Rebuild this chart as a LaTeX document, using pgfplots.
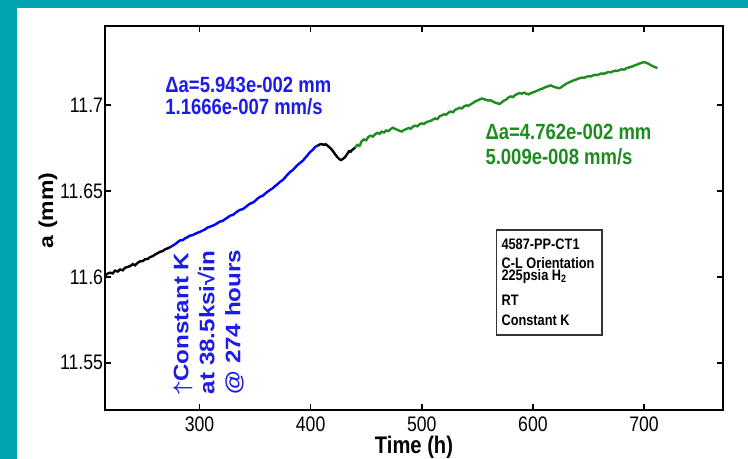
\documentclass[border=0pt]{standalone}
\usepackage{fontspec}
\setmainfont{Liberation Sans}
\newfontfamily\narrow[FakeStretch=0.84]{Liberation Sans}
\newfontfamily\wide[FakeStretch=1.15]{Liberation Sans}
\usepackage{pgfplots}
\pgfplotsset{compat=1.18}
\definecolor{frameteal}{HTML}{00A3AE}
\definecolor{dblue}{HTML}{1C1CE6}
\definecolor{dgreen}{HTML}{1E8C1E}

\begin{document}
\begin{tikzpicture}
\useasboundingbox (0,0) rectangle (374pt,229.5pt);
\clip (0,0) rectangle (374pt,229.5pt);
\fill[frameteal] (0,0) rectangle (374pt,229.5pt);
\fill[white] (8.5pt,0) rectangle (374pt,225.5pt);
\begin{axis}[
  at={(52.5pt,24.5pt)}, anchor=south west,
  width=309pt, height=192pt, scale only axis,
  xmin=215, xmax=771, ymin=11.5225, ymax=11.746,
  xtick={300,400,500,600,700},
  ytick={11.55,11.6,11.65,11.7},
  yticklabels={11.55,11.6,11.65,11.7},
  axis line style={line width=1pt},
  major tick style={line width=0.8pt, black},
  major tick length=3pt,
  tick label style={font=\narrow\fontsize{10.5}{11}\selectfont},
  y tick label style={inner sep=0.8pt},
  /pgf/number format/assume math mode=true,
  xlabel={\textbf{Time (h)}},
  ylabel={\textbf{a (mm)}},
  xlabel style={font=\narrow\fontsize{12}{13}\selectfont, at={(axis description cs:0.5,0)}, anchor=center, yshift=-18.5pt},
  ylabel style={font=\wide\fontsize{10}{11}\selectfont, at={(axis description cs:0,0.52)}, anchor=center, yshift=28.5pt},
  clip=false,
]
% first black part
\addplot[black, line width=1.2pt] coordinates {
 (215,11.6005) (217,11.6018) (219.5,11.6024) (222,11.6020) (224,11.6036)
 (226.5,11.6031) (228.5,11.6043) (231,11.6038) (233,11.6053) (235.5,11.6058)
 (237.5,11.6062) (240,11.6074) (242,11.6067) (244.5,11.6082) (246.5,11.6090)
 (249,11.6092) (251,11.6102) (253.5,11.6104) (255.5,11.6115) (258,11.6120)
 (260,11.6130) (262,11.6136) (264.5,11.6146) (267,11.6150) (269,11.6160)
 (271.5,11.6166) (274,11.6174)
};
% blue part
\addplot[blue, line width=1.2pt] coordinates {
 (274,11.6174) (276,11.6182) (278,11.6190) (280,11.6200) (282.5,11.6212)
 (285,11.6214) (287,11.6224) (289,11.6230) (291.5,11.6240) (294,11.6243)
 (296,11.6250) (298,11.6256) (300.5,11.6262) (303,11.6270) (305,11.6276)
 (307,11.6286) (309.5,11.6292) (312,11.6298) (314,11.6304) (316,11.6312)
 (318.5,11.6322) (321,11.6326) (323,11.6336) (325,11.6344) (327.5,11.6356)
 (330,11.6360) (332,11.6370) (334,11.6380) (336.5,11.6390) (339,11.6394)
 (341,11.6404) (343,11.6414) (345.5,11.6426) (348,11.6432) (350,11.6442)
 (352,11.6454) (354.5,11.6466) (357,11.6472) (359,11.6484) (361,11.6494)
 (363.5,11.6506) (366,11.6516) (368,11.6528) (370,11.6538) (372.5,11.6553)
 (375,11.6564) (377,11.6578) (379,11.6594) (381.5,11.6610) (384,11.6622)
 (386,11.6636) (388,11.6650) (390.5,11.6663) (393,11.6676) (395,11.6692)
 (397,11.6706) (399.5,11.6726) (402,11.6740) (404,11.6756) (406,11.6762)
};
% black bump
\addplot[black, line width=1.2pt] coordinates {
 (406,11.6762) (408,11.6770) (410,11.6773) (412,11.6768) (413.5,11.6772)
 (415.7,11.6761) (418,11.6748) (420,11.6732) (422,11.6714) (424,11.6697)
 (426,11.6684) (427.4,11.6680) (429,11.6686) (431,11.6697) (433,11.6716)
 (434.6,11.6732) (436,11.6728) (437.3,11.6738) (440,11.6752)
};
% green part
\addplot[dgreen, line width=1.2pt] coordinates {
 (440,11.6752) (442,11.6768) (444,11.6762) (446,11.6790) (448,11.6800)
 (450,11.6795) (452,11.6815) (454,11.6822) (456,11.6816) (458,11.6830)
 (460,11.6838) (462,11.6832) (464,11.6845) (466,11.6840) (468,11.6852)
 (470,11.6848) (472,11.6860) (474,11.6868) (476,11.6861) (478,11.6856)
 (480,11.6850) (482,11.6846) (484,11.6855) (486,11.6860) (488,11.6866)
 (490,11.6862) (492,11.6874) (494,11.6880) (496,11.6876) (498,11.6888)
 (500,11.6893) (502,11.6890) (504,11.6900) (506,11.6904) (508,11.6908)
 (510,11.6915) (512,11.6922) (514,11.6918) (516,11.6934) (518,11.6940)
 (520,11.6946) (522,11.6944) (524,11.6956) (526,11.6962) (528,11.6958)
 (530,11.6972) (532,11.6978) (534,11.6984) (536,11.6980) (538,11.6992)
 (540,11.6998) (542,11.6996) (544,11.7004) (546,11.7012) (548,11.7020)
 (550,11.7026) (552,11.7032) (554,11.7038) (556,11.7034) (558,11.7030)
 (560,11.7026) (562,11.7028) (564,11.7020) (566,11.7014) (568,11.7010)
 (570,11.7006) (572,11.7016) (574,11.7026) (576,11.7032) (578,11.7044)
 (580,11.7050) (582,11.7046) (584,11.7058) (586,11.7064) (588,11.7070)
 (590,11.7066) (592,11.7072) (594,11.7066) (596,11.7062) (598,11.7068)
 (600,11.7074) (602,11.7078) (604,11.7084) (606,11.7090) (608,11.7094)
 (610,11.7100) (612,11.7106) (614,11.7110) (616,11.7114) (618,11.7108)
 (620,11.7104) (622,11.7100) (624,11.7098) (626,11.7106) (628,11.7116)
 (630,11.7124) (632,11.7130) (634,11.7136) (636,11.7142) (638,11.7146)
 (640,11.7152) (642,11.7156) (644,11.7160) (646,11.7158) (648,11.7164)
 (650,11.7168) (652,11.7166) (654,11.7172) (656,11.7176) (658,11.7174)
 (660,11.7180) (662,11.7184) (664,11.7182) (666,11.7188) (668,11.7192)
 (670,11.7190) (672,11.7196) (674,11.7200) (676,11.7198) (678,11.7204)
 (680,11.7208) (682,11.7206) (684,11.7214) (686,11.7218) (688,11.7222)
 (690,11.7226) (692,11.7232) (694,11.7236) (696,11.7242) (698,11.7246)
 (700,11.7250) (702,11.7246) (704,11.7240) (706,11.7232) (708,11.7226)
 (710,11.7220) (712,11.7215)
};
% annotations
\begin{scope}[every node/.style={anchor=west, inner sep=0pt, font=\narrow\fontsize{11}{12}\selectfont\bfseries}]
\node[text=dblue] at (axis cs:269,11.7116) {Δa=5.943e-002 mm};
\node[text=dblue] at (axis cs:269,11.6988) {1.1666e-007 mm/s};
\node[text=dgreen] at (axis cs:557,11.6843) {Δa=4.762e-002 mm};
\node[text=dgreen] at (axis cs:557,11.6697) {5.009e-008 mm/s};
\end{scope}
\node[rotate=90, anchor=north west, align=left, text=dblue, inner sep=0pt,
  font=\wide\fontsize{10.5}{13}\selectfont\bfseries]
  at (axis cs:276,11.5315) {{\boldmath$\uparrow$}Constant K\\at 38.5ksi√in\\@ 274 hours};
\draw[line width=0.6pt, black!80] (axis cs:567.5,11.6273) rectangle (axis cs:662.2,11.5661);
\begin{scope}[every node/.style={anchor=west, inner sep=0pt, font=\narrow\fontsize{7.6}{8}\selectfont\bfseries}]
\node at (axis cs:571.4,11.6190) {4587-PP-CT1};
\node at (axis cs:571.4,11.6080) {C-L Orientation};
\node at (axis cs:571.4,11.6000) {225psia H\textsubscript{2}};
\node at (axis cs:571.4,11.5865) {RT};
\node at (axis cs:571.4,11.5749) {Constant K};
\end{scope}
\end{axis}
\end{tikzpicture}
\end{document}
